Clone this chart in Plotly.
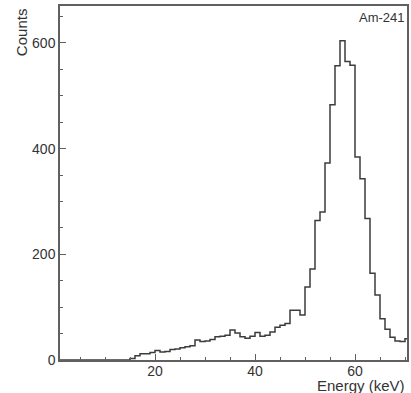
import plotly.graph_objects as go

# Histogram data (1 keV bins)
bin_low_edges = list(range(1, 71))  # 1..70 keV lower edges
counts = [
    0, 0, 0, 0, 0, 0, 0, 0, 0, 0,        # 1-10
    0, 0, 0, 0, 3, 8, 12, 12, 14, 18,    # 11-20
    15, 16, 20, 21, 23, 25, 27, 38, 35, 36,  # 21-30
    39, 44, 45, 47, 57, 51, 44, 41, 45, 52,  # 31-40
    45, 47, 53, 62, 66, 69, 94, 94, 85, 138,  # 41-50
    172, 264, 280, 373, 483, 557, 604, 565, 558, 384,  # 51-60
    343, 268, 164, 123, 78, 58, 43, 36, 35, 40,  # 61-70
]
bin_width = 1.0
x_tick_vals = [20, 40, 60]
y_tick_vals = [0, 200, 400, 600]
label = "Am-241"
x_title = "Energy (keV)"
y_title = "Counts"

xs = bin_low_edges + [bin_low_edges[-1] + bin_width]
ys = counts + [counts[-1]]

fig = go.Figure()
fig.add_trace(go.Scatter(
    x=xs, y=ys, mode="lines", line_shape="hv",
    line=dict(color="#3c3c3c", width=1.5),
    hoverinfo="skip", showlegend=False,
))

axis_color = "#606060"
font_family = "Liberation Sans, Arial, sans-serif"

fig.update_xaxes(
    range=[1.0, 70.4], tickvals=x_tick_vals, ticks="inside", ticklen=6,
    tickcolor=axis_color, tickwidth=1.2,
    showline=True, linecolor=axis_color, linewidth=1.5, mirror=True,
    showgrid=False, zeroline=False, ticklabelstandoff=-3,
    minor=dict(dtick=5, tick0=0, ticks="inside", ticklen=3, tickcolor=axis_color, showgrid=False),
    tickfont=dict(size=14, color="#333", family=font_family),
)
fig.update_yaxes(
    range=[0, 670], tickvals=y_tick_vals, ticks="inside", ticklen=6,
    tickcolor=axis_color, tickwidth=1.2,
    showline=True, linecolor=axis_color, linewidth=1.5, mirror=True,
    showgrid=False, zeroline=False,
    minor=dict(dtick=50, tick0=0, ticks="inside", ticklen=3, tickcolor=axis_color, showgrid=False),
    tickfont=dict(size=14, color="#333", family=font_family),
)

fig.add_annotation(text=label, xref="paper", yref="paper", x=1.0, y=0.995,
                   xanchor="right", yanchor="top", showarrow=False,
                   font=dict(size=13, color="#333", family=font_family))
fig.add_annotation(text=x_title, xref="paper", yref="paper", x=1.0, y=-0.071,
                   xanchor="right", yanchor="middle", showarrow=False,
                   font=dict(size=15, color="#333", family=font_family))
fig.add_annotation(text=y_title, xref="paper", yref="paper", x=-0.112, y=1.0,
                   xanchor="center", yanchor="top", textangle=-90, showarrow=False,
                   font=dict(size=15, color="#333", family=font_family))

fig.update_layout(
    width=411, height=393,
    margin=dict(l=60, r=2, t=6, b=33),
    plot_bgcolor="white", paper_bgcolor="white",
)

fig.write_html(
    "out.html",
    config={"displayModeBar": False},
    post_script="document.body.style.margin='0';document.body.style.overflow='hidden';",
)
